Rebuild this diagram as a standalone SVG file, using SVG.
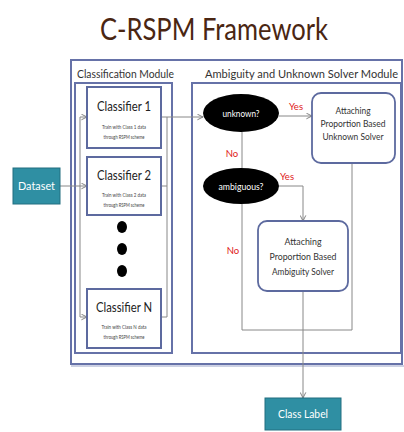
<svg xmlns="http://www.w3.org/2000/svg" width="404" height="432" viewBox="0 0 404 432">
<defs>
<style>
.frame{fill:none;stroke:#6672a8;stroke-width:2}
.box{fill:#fff;stroke:#5d6a9f;stroke-width:2}
.rbox{fill:#fff;stroke:#5d6a9f;stroke-width:1.8}
.teal{fill:#2f8fa3;stroke:#226f80;stroke-width:1}
.conn{fill:none;stroke:#888;stroke-width:1}
.t{font-family:Lato,"Open Sans","Liberation Sans",sans-serif;fill:#222}
.mod{font-size:11.5px;fill:#333}
.cls{font-size:14px;text-anchor:middle}
.sub{font-size:6px;text-anchor:middle;fill:#444}
.sol{font-size:10px;text-anchor:middle;fill:#333}
.w{fill:#fff;text-anchor:middle}
.red{font-size:9.5px;fill:#e02020;text-anchor:middle}
</style>
<marker id="ah" viewBox="0 0 10 10" refX="9" refY="5" markerWidth="7" markerHeight="7" orient="auto" markerUnits="userSpaceOnUse">
<path d="M1,1 L9,5 L1,9" fill="none" stroke="#777" stroke-width="1.3"/>
</marker>
</defs>
<rect width="404" height="432" fill="#fff"/>
<text class="t" x="214" y="40" font-size="30" text-anchor="middle" fill="#4a2612" style="fill:#4a2612" textLength="228" lengthAdjust="spacingAndGlyphs">C-RSPM Framework</text>

<g id="frames">
<rect class="frame" x="71" y="60" width="331" height="304"/>
<line x1="71" y1="366" x2="404" y2="366" stroke="#9aa3c8" stroke-width="1"/>
<rect class="frame" x="75" y="83" width="97" height="270"/>
<rect class="frame" x="192" y="83" width="209" height="270"/>
<text class="t mod" x="77" y="78" textLength="97" lengthAdjust="spacingAndGlyphs">Classification Module</text>
<text class="t mod" x="205" y="78" textLength="193" lengthAdjust="spacingAndGlyphs">Ambiguity and Unknown Solver Module</text>
</g>

<g id="connectors">
<path class="conn" d="M60,186 H87" marker-end="url(#ah)"/>
<path class="conn" d="M80,117 V317"/>
<path class="conn" d="M80,117 H87" marker-end="url(#ah)"/>
<path class="conn" d="M80,317 H87" marker-end="url(#ah)"/>
<path class="conn" d="M161,117 H167 V317 H161"/>
<path class="conn" d="M161,186 H167"/>
<path class="conn" d="M167,117 H203" marker-end="url(#ah)"/>
<path class="conn" d="M279,116 H312" marker-end="url(#ah)"/>
<path class="conn" d="M242,132 V168"/>
<path class="conn" d="M279,186 H303 V221" marker-end="url(#ah)"/>
<path class="conn" d="M242,204 V330 H352 V163"/>
<path class="conn" d="M303,291 V398" marker-end="url(#ah)"/>
<text class="t red" x="296" y="110">Yes</text>
<text class="t red" x="287" y="180">Yes</text>
<text class="t red" x="232" y="157">No</text>
<text class="t red" x="233" y="254">No</text>
</g>

<g id="dataset">
<rect class="teal" x="13" y="168" width="47" height="36"/>
<text class="t w" x="36.5" y="190" font-size="11.5" style="fill:#fff" textLength="37" lengthAdjust="spacingAndGlyphs">Dataset</text>
</g>

<g id="classifier1">
<rect class="box" x="87" y="87" width="74" height="61"/>
<text class="t cls" x="124" y="111" textLength="54" lengthAdjust="spacingAndGlyphs">Classifier 1</text>
<text class="t sub" x="124" y="129" textLength="44" lengthAdjust="spacingAndGlyphs">Train with Class 1 data</text>
<text class="t sub" x="124" y="139" textLength="41" lengthAdjust="spacingAndGlyphs">through RSPM scheme</text>
</g>
<g id="classifier2">
<rect class="box" x="87" y="157" width="74" height="58"/>
<text class="t cls" x="124" y="180" textLength="54" lengthAdjust="spacingAndGlyphs">Classifier 2</text>
<text class="t sub" x="124" y="197" textLength="44" lengthAdjust="spacingAndGlyphs">Train with Class 2 data</text>
<text class="t sub" x="124" y="207" textLength="41" lengthAdjust="spacingAndGlyphs">through RSPM scheme</text>
</g>
<g id="dots">
<ellipse cx="122" cy="227" rx="5" ry="6" fill="#000"/>
<ellipse cx="122" cy="249" rx="5" ry="6" fill="#000"/>
<ellipse cx="122" cy="271" rx="5" ry="6" fill="#000"/>
</g>
<g id="classifierN">
<rect class="box" x="87" y="289" width="74" height="59"/>
<text class="t cls" x="124" y="312" textLength="56" lengthAdjust="spacingAndGlyphs">Classifier N</text>
<text class="t sub" x="124" y="329" textLength="45" lengthAdjust="spacingAndGlyphs">Train with Class N data</text>
<text class="t sub" x="124" y="339" textLength="41" lengthAdjust="spacingAndGlyphs">through RSPM scheme</text>
</g>

<g id="unknown">
<ellipse cx="241" cy="113" rx="38" ry="19" fill="#000"/>
<text class="t w" x="241" y="117" font-size="10" style="fill:#fff" textLength="37" lengthAdjust="spacingAndGlyphs">unknown?</text>
</g>
<g id="ambiguous">
<ellipse cx="241" cy="186" rx="38" ry="18" fill="#000"/>
<text class="t w" x="241" y="190" font-size="10" style="fill:#fff" textLength="45" lengthAdjust="spacingAndGlyphs">ambiguous?</text>
</g>

<g id="unknownSolver">
<rect class="rbox" x="312" y="93" width="83" height="70" rx="9"/>
<text class="t sol" x="353" y="114" textLength="35" lengthAdjust="spacingAndGlyphs">Attaching</text>
<text class="t sol" x="353" y="127" textLength="65" lengthAdjust="spacingAndGlyphs">Proportion Based</text>
<text class="t sol" x="353" y="140" textLength="61" lengthAdjust="spacingAndGlyphs">Unknown Solver</text>
</g>
<g id="ambiguitySolver">
<rect class="rbox" x="258" y="221" width="90" height="70" rx="9"/>
<text class="t sol" x="303" y="245" textLength="37" lengthAdjust="spacingAndGlyphs">Attaching</text>
<text class="t sol" x="303" y="260" textLength="67" lengthAdjust="spacingAndGlyphs">Proportion Based</text>
<text class="t sol" x="303" y="275" textLength="62" lengthAdjust="spacingAndGlyphs">Ambiguity Solver</text>
</g>

<g id="classLabel">
<rect class="teal" x="265" y="398" width="76" height="32"/>
<text class="t w" x="303" y="418" font-size="12" style="fill:#fff" textLength="50" lengthAdjust="spacingAndGlyphs">Class Label</text>
</g>
</svg>
